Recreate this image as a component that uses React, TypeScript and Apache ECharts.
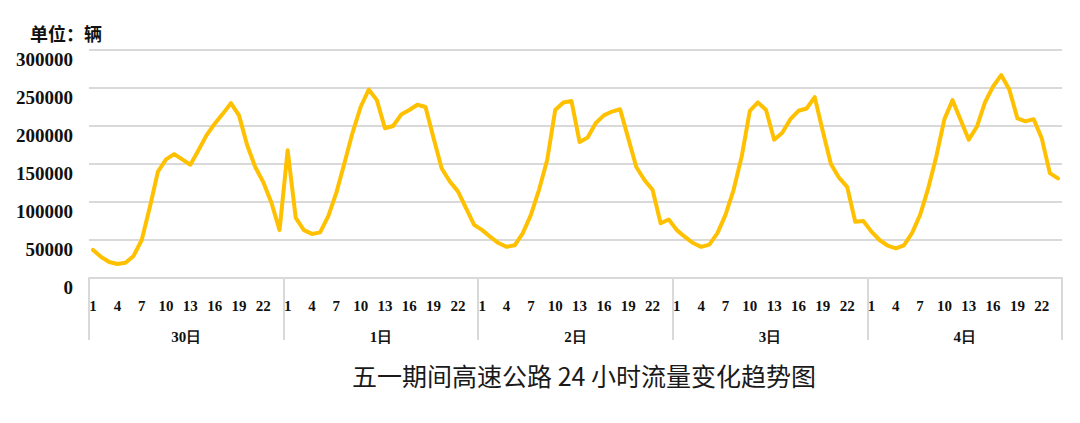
import { useEffect, useRef } from "react";
import * as echarts from "echarts";

// 每日 1-24 时车流量（辆）
const day30 = [37000, 27600, 21000, 18400, 20000, 29000, 50000, 93000, 140000, 156000, 163000, 156000, 149000, 168000, 188000, 203000, 216000, 230000, 214000, 175000, 146000, 126000, 99000, 63000];
const day1 = [168000, 79000, 63000, 58000, 60000, 81000, 112000, 151000, 191000, 225000, 248000, 234000, 197000, 200000, 215000, 221000, 228000, 225000, 184000, 144000, 127000, 114000, 92000, 70000];
const day2 = [63000, 54000, 46000, 41000, 43000, 59000, 83000, 116000, 155000, 221000, 231000, 233000, 179000, 185000, 204000, 214000, 219000, 222000, 184000, 146000, 129000, 116000, 72000, 77000];
const day3 = [63000, 54000, 46000, 41000, 44000, 59000, 83000, 116000, 160000, 220000, 231000, 221000, 182000, 191000, 209000, 220000, 223000, 238000, 193000, 150000, 132000, 120000, 74000, 75000];
const day4 = [61000, 50000, 42500, 39000, 43000, 59000, 83000, 118000, 160000, 209000, 234000, 208000, 182000, 199000, 231000, 252000, 267000, 248000, 210000, 206000, 209000, 184000, 138000, 131000];

const days = ["30日", "1日", "2日", "3日", "4日"];
const hours = Array.from({ length: 24 }, (_, i) => String(i + 1));
const yTicks = { min: 0, max: 300000, interval: 50000 };

const unitText = "单位：辆";
const chartTitle = "五一期间高速公路 24 小时流量变化趋势图";

function App() {
  const chartRef = useRef<HTMLDivElement>(null);

  useEffect(() => {
    if (!chartRef.current) return;
    const chart = echarts.init(chartRef.current, undefined, { renderer: "svg" });

    const categories: string[] = [];
    days.forEach(() => hours.forEach((h) => categories.push(h)));
    const values = [...day30, ...day1, ...day2, ...day3, ...day4];

    const serif = "Liberation Serif";
    const gray = "#d9d9d9";

    chart.setOption({
      animation: false,
      backgroundColor: "#ffffff",
      textStyle: { fontFamily: serif },
      grid: { left: 89, right: 18, top: 50, bottom: 145 },
      title: {
        text: unitText,
        left: 25,
        top: 19,
        textStyle: {
          fontFamily: "Noto Sans CJK SC",
          fontSize: 18,
          fontWeight: "bold",
          color: "#111",
        },
      },
      graphic: [
        {
          type: "text",
          x: 584,
          y: 375,
          style: {
            text: chartTitle,
            fontFamily: "Noto Sans CJK SC",
            fontSize: 25,
            fill: "#1a1a1a",
            textAlign: "center",
            textVerticalAlign: "middle",
          },
        },
      ],
      xAxis: [
        {
          type: "category",
          data: categories,
          boundaryGap: true,
          axisLine: { show: true, lineStyle: { color: gray, width: 2 } },
          axisTick: { show: false },
          axisLabel: {
            interval: 2,
            margin: 20,
            fontFamily: serif,
            fontSize: 15,
            fontWeight: "bold",
            color: "#111",
          },
        },
        {
          type: "category",
          data: days,
          position: "bottom",
          boundaryGap: true,
          axisLine: { show: false },
          axisTick: { show: true, length: 62, lineStyle: { color: gray, width: 2 } },
          axisLabel: {
            margin: 51,
            fontFamily: serif,
            fontSize: 15,
            fontWeight: "bold",
            color: "#111",
          },
        },
      ],
      yAxis: {
        type: "value",
        ...yTicks,
        axisLine: { show: false },
        axisTick: { show: false },
        splitLine: { lineStyle: { color: gray, width: 2 } },
        axisLabel: {
          margin: 16,
          formatter: (v: number) => String(v),
          verticalAlign: "top",
          fontFamily: serif,
          fontSize: 19,
          fontWeight: "bold",
          color: "#111",
        },
      },
      series: [
        {
          type: "line",
          xAxisIndex: 0,
          data: values,
          symbol: "none",
          smooth: false,
          lineStyle: { color: "#FFC000", width: 4, join: "round", cap: "round" },
          itemStyle: { color: "#FFC000" },
        },
      ],
    });

    return () => {
      chart.dispose();
    };
  }, []);

  return (
    <div
      ref={chartRef}
      style={{ position: "absolute", left: 0, top: 0, width: 1080, height: 423 }}
    />
  );
}

export default App;
